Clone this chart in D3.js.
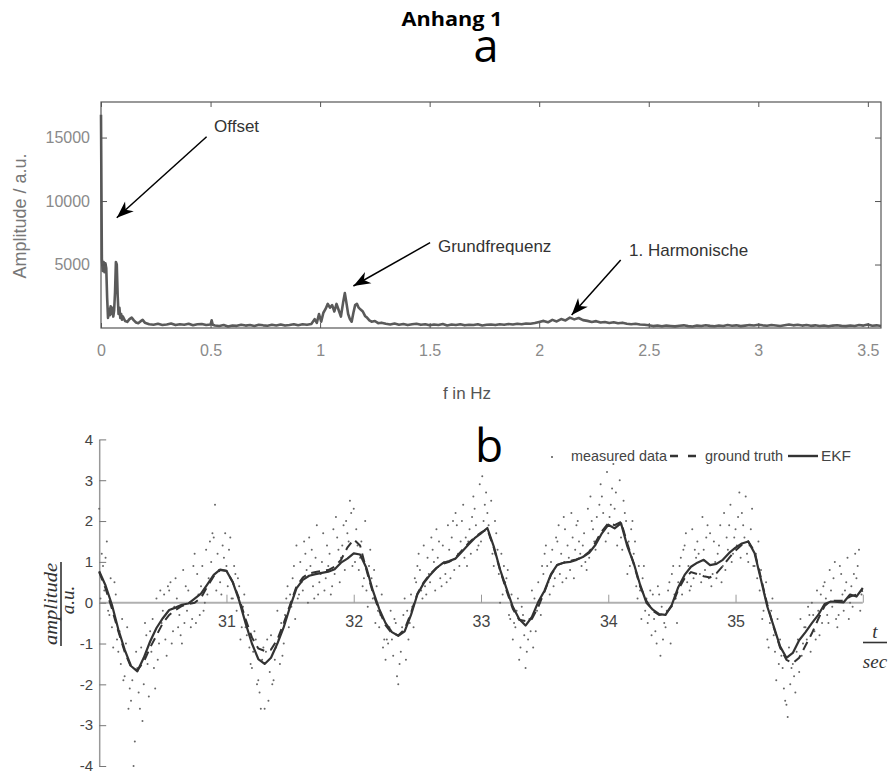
<!DOCTYPE html>
<html>
<head>
<meta charset="utf-8">
<script src="https://cdn.jsdelivr.net/npm/d3@7"></script>
<style>
  body { margin: 0; background: #fff; }
  svg { display: block; }
</style>
</head>
<body>
<script>
// ---------- data: panel a (spectrum) ----------
var spectrum = [
  [0.000,16800],[0.004,5400],[0.008,4500],[0.012,5200],[0.016,4400],[0.020,5100],[0.024,4700],[0.028,2400],
  [0.032,800],[0.036,1500],[0.040,1000],[0.044,1700],[0.048,1100],[0.052,1600],[0.056,900],[0.060,1400],
  [0.064,2800],[0.068,5200],[0.072,5000],[0.076,2600],[0.080,1100],[0.084,1600],[0.088,800],[0.092,1100],
  [0.096,650],[0.10,900],[0.11,550],[0.12,480],[0.13,700],[0.14,820],[0.15,600],[0.16,430],[0.17,380],
  [0.18,520],[0.19,640],[0.20,420],[0.21,360],[0.22,300],
  [0.24,260],[0.26,330],[0.28,240],[0.30,280],[0.32,350],[0.34,230],[0.36,300],[0.38,260],[0.40,340],
  [0.42,220],[0.44,290],[0.46,310],[0.48,240],[0.50,270],[0.505,600],[0.51,250],[0.52,200],[0.54,160],
  [0.56,230],[0.58,120],[0.60,200],[0.62,170],[0.64,250],[0.66,190],[0.68,230],[0.70,160],[0.72,260],
  [0.74,210],[0.76,180],[0.78,250],[0.80,200],[0.82,280],[0.84,190],[0.86,240],[0.88,300],[0.90,220],
  [0.92,290],[0.94,250],[0.96,320],
  [0.975,700],[0.985,400],[0.995,1100],[1.005,500],[1.015,1200],[1.025,1500],[1.035,1900],[1.045,1600],
  [1.055,1800],[1.065,1300],[1.075,1900],[1.085,1400],[1.095,900],[1.105,2000],[1.113,2750],[1.12,2000],
  [1.128,1100],[1.136,700],[1.144,500],[1.152,1200],[1.16,1800],[1.168,1900],[1.176,1600],[1.185,1450],
  [1.195,1300],[1.205,950],[1.215,800],[1.225,600],[1.235,500],[1.25,550],[1.265,380],[1.28,420],[1.30,330],
  [1.32,280],[1.34,350],[1.36,260],[1.38,310],[1.40,230],[1.42,290],[1.44,340],[1.46,250],[1.48,300],
  [1.50,220],[1.52,280],[1.54,240],[1.56,310],[1.58,200],[1.60,270],[1.62,230],[1.64,300],[1.66,210],
  [1.68,260],[1.70,240],[1.72,290],[1.74,200],[1.76,250],[1.78,280],[1.80,230],[1.82,300],[1.84,260],
  [1.86,320],[1.88,270],[1.90,340],[1.92,300],[1.94,360],[1.96,330],[1.98,400],
  [2.00,480],[2.02,560],[2.04,450],[2.06,640],[2.08,520],[2.10,700],[2.12,600],[2.14,820],[2.16,680],
  [2.18,790],[2.20,620],[2.22,560],[2.24,480],[2.26,540],[2.28,430],[2.30,470],[2.32,400],[2.34,450],
  [2.36,380],[2.38,420],[2.40,340],[2.42,300],[2.44,330],[2.46,270],[2.48,260],[2.50,220],
  [2.52,150],[2.54,200],[2.56,140],[2.58,190],[2.60,160],[2.62,130],[2.64,180],[2.66,210],[2.68,150],
  [2.70,120],[2.72,190],[2.74,160],[2.76,220],[2.78,170],[2.80,140],[2.82,200],[2.84,160],[2.86,230],
  [2.88,180],[2.90,210],[2.92,150],[2.94,190],[2.96,230],[2.98,200],[3.00,260],[3.02,210],[3.04,180],
  [3.06,240],[3.08,200],[3.10,160],[3.12,220],[3.14,270],[3.16,210],[3.18,250],[3.20,190],[3.22,230],
  [3.24,170],[3.26,210],[3.28,160],[3.30,200],[3.32,140],[3.34,190],[3.36,220],[3.38,170],[3.40,150],
  [3.42,200],[3.44,160],[3.46,230],[3.48,190],[3.50,270],[3.52,180],[3.54,210],[3.56,160]
];
var freqTicks = [0, 0.5, 1, 1.5, 2, 2.5, 3, 3.5];
var ampTicks = [5000, 10000, 15000];
// label, text anchor [f, amp], arrow from [f, amp], arrow tip [f, amp]
var annotations = [
  {label: "Offset",         text: [0.516, 15437], from: [0.482, 15067], to: [0.072, 8687]},
  {label: "Grundfrequenz",  text: [1.538, 5962],  from: [1.502, 6718],  to: [1.152, 3308]},
  {label: "1. Harmonische", text: [2.410, 5694],  from: [2.372, 5356],  to: [2.148, 1024]}
];

// ---------- data: panel b (time series) ----------
var tStart = 30, curveStep = 0.05, sampleStep = 0.01;
var ekf = [
  0.77,0.42,-0.05,-0.65,-1.15,-1.55,-1.68,-1.35,-0.95,-0.62,-0.38,-0.18,-0.12,-0.05,-0.02,0.10,0.22,0.45,0.68,0.81,
  0.78,0.50,0.05,-0.50,-1.00,-1.38,-1.50,-1.35,-1.00,-0.60,-0.10,0.35,0.56,0.66,0.70,0.73,0.76,0.82,0.98,1.08,
  1.21,1.18,0.85,0.30,-0.15,-0.50,-0.72,-0.81,-0.70,-0.30,0.20,0.48,0.68,0.85,0.97,1.02,1.08,1.25,1.42,1.58,
  1.70,1.83,1.38,0.81,0.35,-0.10,-0.40,-0.56,-0.35,0.02,0.30,0.70,0.93,0.98,1.00,1.05,1.12,1.22,1.42,1.70,
  1.91,1.82,1.95,1.38,0.97,0.44,0.00,-0.17,-0.28,-0.30,-0.05,0.38,0.68,0.88,0.98,1.05,0.92,0.95,1.05,1.22,
  1.35,1.45,1.50,1.21,0.56,-0.10,-0.58,-1.07,-1.35,-1.23,-0.92,-0.72,-0.50,-0.30,-0.03,0.03,0.02,0.01,0.20,0.15,0.36
];
var groundTruth = [
  0.75,0.35,-0.15,-0.70,-1.20,-1.58,-1.65,-1.45,-1.10,-0.80,-0.50,-0.30,-0.18,-0.08,-0.03,0.00,0.12,0.40,0.65,0.80,
  0.78,0.50,0.10,-0.40,-0.85,-1.12,-1.18,-1.15,-0.90,-0.50,-0.05,0.40,0.62,0.72,0.75,0.78,0.80,0.88,1.05,1.35,
  1.55,1.40,0.80,0.25,-0.20,-0.55,-0.75,-0.80,-0.65,-0.25,0.22,0.50,0.70,0.85,0.95,1.00,1.10,1.28,1.45,1.60,
  1.72,1.80,1.35,0.80,0.30,-0.15,-0.42,-0.45,-0.40,-0.10,0.28,0.68,0.92,0.98,1.02,1.06,1.12,1.25,1.48,1.75,
  1.95,1.90,1.98,1.45,0.95,0.40,0.05,-0.20,-0.30,-0.28,-0.08,0.32,0.60,0.75,0.70,0.65,0.62,0.72,0.90,1.10,
  1.28,1.42,1.50,1.25,0.60,-0.05,-0.60,-1.10,-1.40,-1.48,-1.35,-1.05,-0.75,-0.40,-0.08,0.05,0.05,0.05,0.15,0.20,0.30
];
var measured = [
  2.3,0.1,1.2,0.9,0.3, 1.1,1.5,-0.2,-0.3,0.6, -0.6,-1.1,0.5,0.2,-0.9, -1.2,-0.7,-1.5,-0.4,-1.9,
  -1.8,-1.0,-0.6,-2.6,-2.1, -2.4,-1.9,-4.0,-3.4,-1.2, -1.6,-2.2,-2.6,-1.1,-2.9, -2.0,-0.5,-0.8,-1.5,-2.3,
  -0.7,-1.2,-0.4,-1.6,-2.1, 0.1,-1.4,-1.0,0.3,-0.5, -0.2,0.2,-0.9,-1.3,0.4, 0.3,0.5,-1.0,-0.7,-0.1,
  0.6,0.1,-0.6,-0.3,-0.8, -1.0,0.8,-0.5,0.4,-0.2, 0.3,0.0,-0.6,-0.4,0.9, 1.2,-0.5,0.7,0.2,-0.3,
  0.4,0.9,-0.2,0.0,1.3, 0.2,0.6,1.5,1.0,1.7, 1.6,2.4,0.3,1.2,0.8, 0.5,0.2,1.4,1.1,1.7,
  0.9,0.4,1.3,1.6,0.1, 0.1,0.9,0.7,-0.2,0.6, 0.4,-0.9,-0.6,-0.1,0.2, -0.6,-0.8,-0.3,-1.1,-1.5,
  -1.6,-1.2,-0.7,-0.9,-2.0, -1.9,-2.2,-2.6,-1.4,-1.1, -2.6,-1.2,-0.9,-2.4,-1.7, -0.8,-2.0,-1.9,-1.4,-1.1,
  -0.2,-0.9,-1.5,-0.5,-1.3, -1.0,-0.3,0.1,0.4,-0.6, 0.2,-0.1,0.6,0.9,-0.4, 1.4,0.1,0.2,1.0,0.5,
  0.3,1.5,1.2,0.8,0.0, 1.6,0.9,1.3,0.4,0.1, 1.1,1.9,0.2,0.5,0.7, 1.0,1.7,0.3,0.6,1.4,
  0.9,1.2,0.2,0.4,1.8, 0.7,2.1,1.6,1.3,0.5, 1.1,1.4,1.9,0.8,2.0, 1.7,1.5,2.5,2.2,0.9,
  2.3,1.0,1.8,1.4,0.8, 1.1,1.5,0.4,0.6,2.0, 0.3,-0.1,0.9,1.3,0.6, 0.1,0.8,-0.5,0.4,-0.2,
  -0.6,-0.3,0.2,-1.1,-0.9, -1.4,-0.9,-1.0,-0.6,-0.2, -0.9,-1.3,-0.4,-0.5,-1.8, -2.0,-1.5,-1.2,-0.6,-0.3,
  0.1,-1.4,-0.2,-0.9,-0.5, 0.2,-0.1,-0.6,0.6,0.5, 0.9,1.2,0.8,0.3,0.1, 1.4,0.4,0.2,1.1,0.7,
  0.5,1.6,1.3,1.0,0.3, 1.8,1.1,1.5,0.6,0.4, 1.4,1.0,0.7,0.5,1.9, 1.3,0.6,1.6,2.0,0.8,
  2.2,1.9,1.2,0.9,1.5, 2.0,2.4,1.1,1.6,0.9, 1.5,1.8,1.2,2.1,2.6, 2.3,1.9,1.3,1.4,2.9,
  1.5,3.1,2.0,2.4,2.7, 2.2,1.9,1.6,2.5,1.2, 0.9,2.0,1.7,1.3,0.7, 0.0,1.2,0.2,0.9,0.5,
  0.6,0.8,-0.3,-0.4,0.2, -0.9,-0.5,-0.6,-0.2,0.1, -1.4,-1.1,-0.1,-0.3,-0.8, -1.6,-1.2,-0.9,-0.4,-0.7,
  0.3,-1.1,0.1,-0.7,-0.2, 0.5,0.0,-0.3,0.9,0.7, 1.2,1.4,0.9,0.5,0.2, 1.0,1.3,0.4,0.6,1.6,
  1.5,1.9,0.7,1.2,0.5, 2.1,1.8,0.6,1.4,1.1, 0.8,2.2,1.6,0.6,1.3, 1.9,2.0,1.5,1.2,0.9,
  1.4,1.7,1.0,0.8,2.3, 1.1,2.6,2.0,1.8,1.5, 1.3,2.1,1.6,2.4,2.9, 2.6,2.2,1.8,1.5,3.2,
  1.7,2.1,2.4,2.8,3.4, 2.3,2.7,1.4,1.9,3.0, 1.6,1.3,2.5,2.2,2.0, 0.7,1.5,0.9,1.8,2.0,
  1.2,1.5,0.4,0.1,0.9, 0.3,-0.4,0.6,0.9,-0.2, 0.1,-0.5,-0.3,0.3,-0.8, 0.2,-0.4,-0.7,-1.0,0.4,
  0.2,-1.3,-0.1,-0.9,-0.5, -0.6,-0.2,0.3,0.5,-1.0, 0.7,0.9,0.2,0.1,-0.5, 0.5,0.9,1.1,0.2,1.3,
  1.4,1.7,0.5,0.9,0.3, 0.4,1.8,0.6,1.3,1.1, 1.5,1.2,0.7,0.5,2.1, 1.3,0.8,1.6,1.9,0.6,
  1.7,0.4,0.7,1.5,1.0, 0.6,1.2,1.4,1.9,0.5, 0.9,2.2,0.8,1.6,1.3, 1.9,2.4,1.0,1.2,1.6,
  1.8,1.4,2.1,2.7,1.1, 2.2,1.9,1.6,2.6,1.2, 1.0,1.4,1.8,2.3,0.9, 0.9,1.2,0.6,1.5,0.3,
  0.8,-0.4,-0.2,0.2,0.5, -0.9,-1.1,-0.5,-0.2,0.1, -0.8,-1.2,-1.9,-0.4,-1.5, -0.9,-1.3,-1.6,-2.1,-2.4,
  -2.5,-2.8,-1.1,-2.0,-1.6, -1.5,-1.8,-2.2,-1.2,-0.9, -1.7,-0.4,-1.3,-1.0,-0.6, -0.6,-0.9,-0.1,-0.3,-1.2,
  0.0,-0.3,-0.7,-0.9,0.3, -0.2,-0.8,0.2,-0.5,0.4, 0.5,0.1,-0.3,-0.5,0.8, 0.3,-0.1,0.6,1.0,-0.4,
  -0.6,-0.3,0.9,0.7,0.2, -0.2,0.3,0.5,1.1,-0.4, 0.0,0.4,-0.1,0.7,1.2, 0.6,0.9,1.3,-0.2,0.2
];
var timeTicks = [31, 32, 33, 34, 35, 36];
var valueTicks = [-4, -3, -2, -1, 0, 1, 2, 3, 4];
var legendItems = ["measured data", "ground truth", "EKF"];

// ---------- setup ----------
var width = 888,
    height = 773;

var svg = d3.select('body').append('svg')
    .attr('width', width)
    .attr('height', height);

var sans = '"Liberation Sans", Arial, sans-serif',
    serif = '"Liberation Serif", "Times New Roman", serif';

svg.append('defs').append('marker')
    .attr('id', 'head')
    .attr('markerUnits', 'userSpaceOnUse')
    .attr('markerWidth', 20).attr('markerHeight', 16)
    .attr('viewBox', '-18 -8 20 16')
    .attr('refX', 0).attr('refY', 0)
    .attr('orient', 'auto')
    .append('path')
    .attr('d', 'M0,0 L-17,-6.5 L-12,0 L-17,6.5 Z')
    .attr('fill', '#000');

// titles
svg.append('text')
    .attr('x', 452).attr('y', 26)
    .attr('text-anchor', 'middle')
    .attr('font-family', '"Open Sans", sans-serif')
    .attr('font-weight', 'bold')
    .attr('font-size', 19)
    .attr('textLength', 101).attr('lengthAdjust', 'spacingAndGlyphs')
    .text('Anhang 1');

svg.append('text')
    .attr('x', 486).attr('y', 62)
    .attr('text-anchor', 'middle')
    .attr('font-family', '"Open Sans", sans-serif')
    .attr('font-size', 45)
    .text('a');

svg.append('text')
    .attr('x', 489).attr('y', 462)
    .attr('text-anchor', 'middle')
    .attr('font-family', '"Open Sans", sans-serif')
    .attr('font-size', 46)
    .text('b');

// ---------- panel a ----------
var xA = d3.scaleLinear().domain([0, 3.56]).range([101, 881]);
var yA = d3.scaleLinear().domain([0, 17800]).range([328, 102]);

var gA = svg.append('g');

var spectrumLine = d3.line()
    .x(function(d) { return xA(d[0]); })
    .y(function(d) { return yA(d[1]); });

gA.append('path')
    .datum(spectrum)
    .attr('d', spectrumLine)
    .attr('fill', 'none')
    .attr('stroke', '#5a5a5a')
    .attr('stroke-width', 2.6)
    .attr('stroke-linejoin', 'round');

gA.append('rect')
    .attr('x', xA(0)).attr('y', yA(17800))
    .attr('width', xA(3.56) - xA(0))
    .attr('height', yA(0) - yA(17800))
    .attr('fill', 'none')
    .attr('stroke', '#555')
    .attr('stroke-width', 1.2);

function styleAxis(g, color, size) {
    g.select('.domain').remove();
    g.selectAll('.tick line').attr('stroke', '#555');
    g.selectAll('.tick text')
        .attr('fill', color)
        .attr('font-family', sans)
        .attr('font-size', size);
}

gA.append('g')
    .attr('transform', 'translate(0,' + yA(0) + ')')
    .call(d3.axisBottom(xA).tickValues(freqTicks).tickSizeInner(-5).tickSizeOuter(0).tickPadding(17)
        .tickFormat(function(d) { return String(d); }))
    .call(styleAxis, '#8a8a8a', 16);

gA.append('g')
    .attr('transform', 'translate(0,' + yA(17800) + ')')
    .call(d3.axisTop(xA).tickValues(freqTicks).tickSizeInner(-5).tickSizeOuter(0).tickFormat(''))
    .call(styleAxis, '#8a8a8a', 16);

gA.append('g')
    .attr('transform', 'translate(' + xA(0) + ',0)')
    .call(d3.axisLeft(yA).tickValues(ampTicks).tickSizeInner(-6).tickSizeOuter(0).tickPadding(11)
        .tickFormat(function(d) { return String(d); }))
    .call(styleAxis, '#8a8a8a', 16);

gA.append('g')
    .attr('transform', 'translate(' + xA(3.56) + ',0)')
    .call(d3.axisRight(yA).tickValues(ampTicks).tickSizeInner(-6).tickSizeOuter(0).tickFormat(''))
    .call(styleAxis, '#8a8a8a', 16);

gA.append('text')
    .attr('transform', 'translate(26,216) rotate(-90)')
    .attr('text-anchor', 'middle')
    .attr('font-family', sans)
    .attr('font-size', 18)
    .attr('fill', '#777')
    .text('Amplitude / a.u.');

gA.append('text')
    .attr('x', 467).attr('y', 399)
    .attr('text-anchor', 'middle')
    .attr('font-family', sans)
    .attr('font-size', 17)
    .attr('fill', '#555')
    .text('f in Hz');

var notes = gA.selectAll('.note')
    .data(annotations)
    .enter()
    .append('g')
    .attr('class', 'note');

notes.append('line')
    .attr('x1', function(d) { return xA(d.from[0]); })
    .attr('y1', function(d) { return yA(d.from[1]); })
    .attr('x2', function(d) { return xA(d.to[0]); })
    .attr('y2', function(d) { return yA(d.to[1]); })
    .attr('stroke', '#000')
    .attr('stroke-width', 1.5)
    .attr('marker-end', 'url(#head)');

notes.append('text')
    .attr('x', function(d) { return xA(d.text[0]); })
    .attr('y', function(d) { return yA(d.text[1]); })
    .attr('font-family', sans)
    .attr('font-size', 17)
    .attr('fill', '#333')
    .text(function(d) { return d.label; });

// ---------- panel b ----------
var xB = d3.scaleLinear().domain([30, 36]).range([99.2, 862.8]);
var yB = d3.scaleLinear().domain([-4, 4]).range([766, 439.4]);

var gB = svg.append('g');

gB.append('line')
    .attr('x1', xB(30)).attr('x2', xB(36))
    .attr('y1', yB(0)).attr('y2', yB(0))
    .attr('stroke', '#b0b0b0')
    .attr('stroke-width', 2);

gB.append('g')
    .attr('transform', 'translate(0,' + yB(0) + ')')
    .call(d3.axisBottom(xB).tickValues(timeTicks).tickSizeInner(-8).tickSizeOuter(0).tickPadding(13)
        .tickFormat(function(d) { return d === 36 ? '' : String(d); }))
    .call(styleAxis, '#444', 16)
    .selectAll('.tick line').attr('stroke', '#999');

gB.append('g')
    .attr('transform', 'translate(' + xB(30) + ',0)')
    .call(d3.axisLeft(yB).tickValues(valueTicks).tickSizeInner(-7).tickSizeOuter(0).tickPadding(6)
        .tickFormat(function(d) { return String(d); }))
    .call(function(g) {
        g.selectAll('.tick line').attr('stroke', '#777');
        g.selectAll('.tick text').attr('fill', '#444').attr('font-family', sans).attr('font-size', 15);
        g.select('.domain').attr('stroke', '#999').attr('stroke-width', 1.5);
    });

gB.append('g')
    .selectAll('circle')
    .data(measured)
    .enter()
    .append('circle')
    .attr('cx', function(d, i) { return xB(tStart + i * sampleStep); })
    .attr('cy', function(d) { return yB(d); })
    .attr('r', 1)
    .attr('fill', '#666');

var curve = d3.line()
    .x(function(d, i) { return xB(tStart + i * curveStep); })
    .y(function(d) { return yB(d); });

gB.append('path')
    .datum(groundTruth)
    .attr('d', curve)
    .attr('fill', 'none')
    .attr('stroke', '#333')
    .attr('stroke-width', 2)
    .attr('stroke-dasharray', '9,6');

gB.append('path')
    .datum(ekf)
    .attr('d', curve)
    .attr('fill', 'none')
    .attr('stroke', '#333')
    .attr('stroke-width', 2.2)
    .attr('stroke-linejoin', 'round');

// y label as fraction
gB.append('text')
    .attr('transform', 'translate(57,604) rotate(-90)')
    .attr('text-anchor', 'middle')
    .attr('font-family', serif)
    .attr('font-style', 'italic')
    .attr('font-size', 19)
    .attr('fill', '#333')
    .attr('textLength', 82).attr('lengthAdjust', 'spacingAndGlyphs')
    .text('amplitude');
gB.append('line')
    .attr('x1', 61).attr('x2', 61)
    .attr('y1', 562).attr('y2', 646)
    .attr('stroke', '#333').attr('stroke-width', 1.6);
gB.append('text')
    .attr('transform', 'translate(74,600) rotate(-90)')
    .attr('text-anchor', 'middle')
    .attr('font-family', serif)
    .attr('font-style', 'italic')
    .attr('font-size', 19)
    .attr('fill', '#333')
    .text('a.u.');

// x label as fraction
gB.append('text')
    .attr('x', 875).attr('y', 638)
    .attr('text-anchor', 'middle')
    .attr('font-family', serif)
    .attr('font-style', 'italic')
    .attr('font-size', 19)
    .attr('fill', '#333')
    .text('t');
gB.append('line')
    .attr('x1', 863).attr('x2', 887)
    .attr('y1', 642.5).attr('y2', 642.5)
    .attr('stroke', '#333').attr('stroke-width', 1.6);
gB.append('text')
    .attr('x', 875).attr('y', 668)
    .attr('text-anchor', 'middle')
    .attr('font-family', serif)
    .attr('font-style', 'italic')
    .attr('font-size', 19)
    .attr('fill', '#333')
    .text('sec');

// legend
var legend = gB.append('g');
legend.append('circle')
    .attr('cx', 552).attr('cy', 457).attr('r', 1)
    .attr('fill', '#555');
legend.append('line')
    .attr('x1', 670).attr('x2', 697).attr('y1', 456).attr('y2', 456)
    .attr('stroke', '#333').attr('stroke-width', 2.4)
    .attr('stroke-dasharray', '8,10');
legend.append('line')
    .attr('x1', 788).attr('x2', 818).attr('y1', 456).attr('y2', 456)
    .attr('stroke', '#333').attr('stroke-width', 2.4);
legend.selectAll('text')
    .data(legendItems)
    .enter()
    .append('text')
    .attr('x', function(d, i) { return [571, 705, 821][i]; })
    .attr('y', 461)
    .attr('font-family', sans)
    .attr('font-size', 15)
    .attr('fill', '#444')
    .attr('textLength', function(d, i) { return [96, 78, 30][i]; })
    .attr('lengthAdjust', 'spacingAndGlyphs')
    .text(function(d) { return d; });
</script>
</body>
</html>
